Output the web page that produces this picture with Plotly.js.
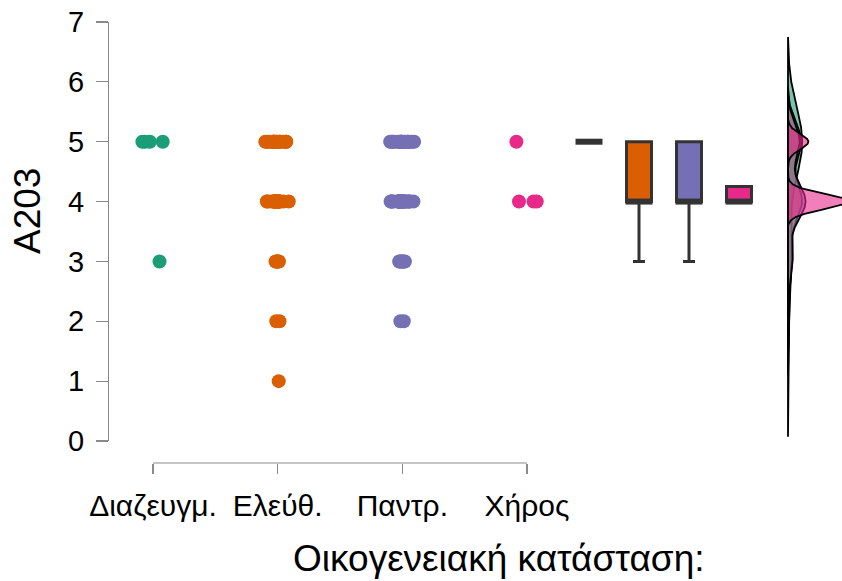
<!DOCTYPE html>
<html><head><meta charset="utf-8">
<script src="https://cdn.plot.ly/plotly-3.0.1.min.js"></script>
<style>html,body{margin:0;padding:0;background:#fff}</style>
</head><body><div id="chart" style="width:842px;height:581px"></div>
<script>
// ---- data ----
const categories = ['Διαζευγμ.', 'Ελεύθ.', 'Παντρ.', 'Χήρος'];
const levels = [1, 2, 3, 4, 5];
const countsDiaz = [0, 0, 1, 0, 4];
const countsEleuth = [1, 2, 6, 20, 19];
const countsPantr = [0, 2, 8, 30, 20];
const countsXiros = [0, 0, 0, 3, 1];
const colors = ['#1B9E77', '#D95F02', '#7570B3', '#E7298A'];
const densFill = ['rgba(27,158,119,0.6)', 'rgba(217,95,2,0.6)', 'rgba(117,112,179,0.6)', 'rgba(231,41,138,0.6)'];
const yTicks = [0, 1, 2, 3, 4, 5, 6, 7];
const xTitle = 'Οικογενειακή κατάσταση:';
const yTitle = 'A203';

// ---- helpers ----
function expand(counts) { const out = []; counts.forEach((c, i) => { for (let k = 0; k < c; k++) out.push(levels[i]); }); return out; }
const groups = [countsDiaz, countsEleuth, countsPantr, countsXiros].map(expand);
function quantile(s, p) { const h = (s.length - 1) * p; const lo = Math.floor(h), hi = Math.ceil(h); return s[lo] + (h - lo) * (s[hi] - s[lo]); }
function sd(a) { const m = a.reduce((s, v) => s + v, 0) / a.length; return Math.sqrt(a.reduce((s, v) => s + (v - m) * (v - m), 0) / (a.length - 1)); }
function bwNrd0(a) {
  const s = a.slice().sort((x, y) => x - y); const hi = sd(a);
  let lo = Math.min(hi, (quantile(s, 0.75) - quantile(s, 0.25)) / 1.34);
  if (!lo) lo = hi || Math.abs(s[0]) || 1;
  return 0.9 * lo * Math.pow(a.length, -0.2);
}
function kde(a) {
  const bw = bwNrd0(a); const mn = Math.min(...a) - 3 * bw, mx = Math.max(...a) + 3 * bw; const n = 512;
  const ys = [], ds = [];
  for (let i = 0; i < n; i++) {
    const y = mn + (mx - mn) * i / (n - 1); let d = 0;
    for (const v of a) { const z = (y - v) / bw; d += Math.exp(-0.5 * z * z); }
    ds.push(d / (a.length * bw * Math.sqrt(2 * Math.PI))); ys.push(y);
  }
  return { ys, ds };
}
function boxStats(a) {
  const s = a.slice().sort((x, y) => x - y);
  const q1 = quantile(s, 0.25), q3 = quantile(s, 0.75), med = quantile(s, 0.5), iqr = q3 - q1;
  const inside = s.filter(v => v >= q1 - 1.5 * iqr && v <= q3 + 1.5 * iqr);
  return { q1, q3, med, lf: Math.min(q1, inside[0]), uf: Math.max(q3, inside[inside.length - 1]) };
}

const traces = [];
// jittered points
groups.forEach((g, i) => {
  traces.push({
    type: 'box', xaxis: 'x', yaxis: 'y', x0: i, y: g, width: 0.42,
    boxpoints: 'all', jitter: 0.48, pointpos: 0,
    fillcolor: 'rgba(0,0,0,0)', line: { width: 0, color: 'rgba(0,0,0,0)' }, whiskerwidth: 0,
    marker: { color: colors[i], size: 14, opacity: 1, line: { width: 0 } },
    hoveron: 'points'
  });
});
// boxplots
groups.forEach((g, i) => {
  const st = boxStats(g);
  traces.push({
    type: 'box', xaxis: 'x2', yaxis: 'y', x: [i], q1: [st.q1], median: [st.med], q3: [st.q3],
    lowerfence: [st.lf], upperfence: [st.uf], width: 0.5, whiskerwidth: 0.48,
    fillcolor: colors[i], line: { color: '#333333', width: 3 }, boxpoints: false
  });
  traces.push({
    type: 'scatter', mode: 'lines', xaxis: 'x2', yaxis: 'y',
    x: [i - 0.27, i + 0.27], y: [st.med, st.med], line: { color: '#333333', width: 6 }, hoverinfo: 'skip'
  });
});
// densities
groups.forEach((g, i) => {
  const k = kde(g);
  const xs = [0].concat(k.ds, [0, 0]);
  const ys = [k.ys[0]].concat(k.ys, [k.ys[k.ys.length - 1], k.ys[0]]);
  traces.push({
    type: 'scatter', mode: 'lines', xaxis: 'x3', yaxis: 'y', x: xs, y: ys,
    fill: 'toself', fillcolor: densFill[i], line: { color: '#000', width: 1.8 }, hoverinfo: 'skip'
  });
});

const W = 734, H = 441;
const layout = {
  width: 842, height: 581,
  margin: { l: 108, r: 0, t: 22, b: 118, pad: 0 },
  paper_bgcolor: '#fff', plot_bgcolor: '#fff', showlegend: false, boxmode: 'overlay',
  font: { family: 'Liberation Sans, Arial, sans-serif', color: '#000' },
  xaxis: {
    domain: [(115.6 - 108) / W, (564.4 - 108) / W], range: [-0.3, 3.3], anchor: 'free', position: 0,
    tickmode: 'array', tickvals: [0, 1, 2, 3], ticktext: categories,
    ticks: 'outside', ticklen: 10, tickcolor: '#8a8a8a', tickwidth: 1.2,
    showline: false, showgrid: false, zeroline: false, tickfont: { size: 30 }, ticklabelstandoff: 6
  },
  yaxis: {
    domain: [22 / H, 1], range: [0, 7], anchor: 'free', position: 0,
    tickmode: 'array', tickvals: yTicks, ticks: 'outside', ticklen: 12, tickcolor: '#8a8a8a', tickwidth: 1.2,
    showline: true, linecolor: '#8a8a8a', linewidth: 1.2, showgrid: false, zeroline: false,
    tickfont: { size: 29 }, ticklabelstandoff: 6
  },
  xaxis2: { domain: [(564 - 108) / W, (764 - 108) / W], range: [-0.5, 3.5], anchor: 'y', visible: false },
  xaxis3: { domain: [(780 - 108) / W, 1], range: [-8 / 26, 54 / 26], anchor: 'y', visible: false },
  shapes: [{ type: 'line', xref: 'x', yref: 'paper', x0: 0, x1: 3, y0: 0, y1: 0, line: { color: '#8a8a8a', width: 1.2 } }],
  annotations: [
    { text: xTitle, xref: 'paper', yref: 'paper', x: (499 - 108) / W, y: (463 - 558) / H, xanchor: 'center', yanchor: 'middle', showarrow: false, font: { size: 37 } },
    { text: yTitle, xref: 'paper', yref: 'paper', x: (27 - 108) / W, y: (463 - 211) / H, xanchor: 'center', yanchor: 'middle', textangle: -90, showarrow: false, font: { size: 37 } }
  ]
};
Plotly.newPlot('chart', traces, layout, { staticPlot: true });
</script></body></html>
